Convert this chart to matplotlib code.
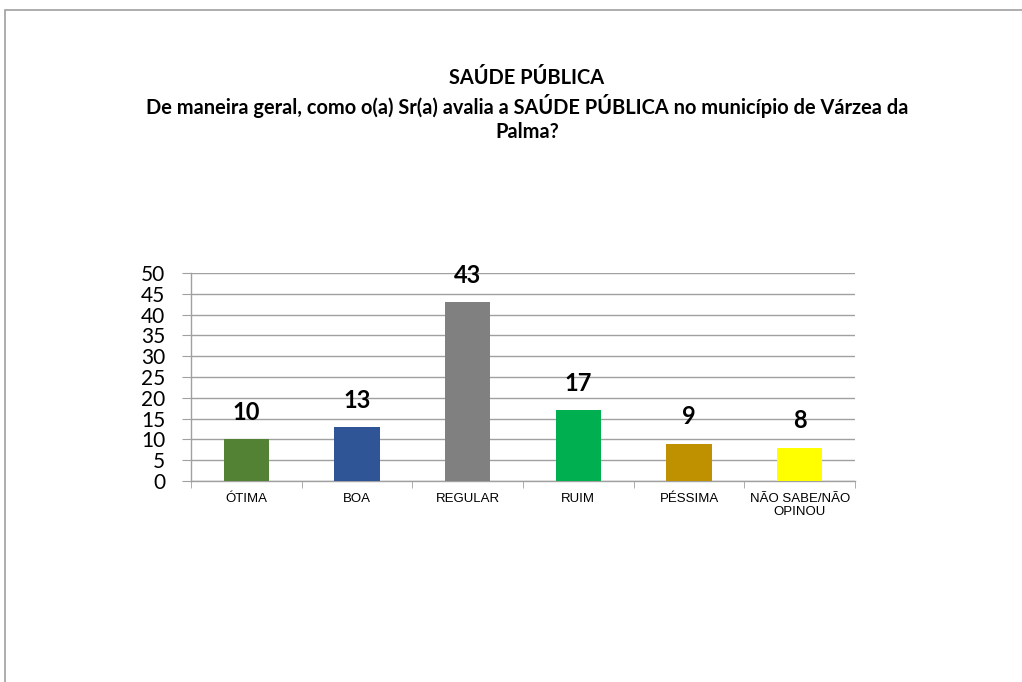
import matplotlib
matplotlib.use("Agg")
import matplotlib.pyplot as plt
from matplotlib.patches import Rectangle

categories = ["ÓTIMA", "BOA", "REGULAR", "RUIM", "PÉSSIMA", "NÃO SABE/NÃO\nOPINOU"]
values = [10, 13, 43, 17, 9, 8]
colors = ["#548235", "#2F5597", "#808080", "#00B050", "#BF9000", "#FFFF00"]
yticks = [0, 5, 10, 15, 20, 25, 30, 35, 40, 45, 50]
title_lines = ["SAÚDE PÚBLICA",
               "De maneira geral, como o(a) Sr(a) avalia a SAÚDE PÚBLICA no município de Várzea da",
               "Palma?"]

W, H = 1022, 682
fig = plt.figure(figsize=(W / 100, H / 100), dpi=100)
fig.patch.set_facecolor("white")

# outer frame (left and top visible)
fig.patches.append(Rectangle((5 / W, -0.1), 1.2, (H - 10) / H + 0.1, transform=fig.transFigure,
                             fill=False, edgecolor="#a0a0a0", linewidth=1.2))

ax = fig.add_axes([191 / W, 1 - 481 / H, (855 - 191) / W, (481 - 273) / H])
x = list(range(len(categories)))
ax.bar(x, values, width=0.41, color=colors, zorder=3)
ax.set_xlim(-0.5, len(categories) - 0.5)
ax.set_ylim(0, 50)
ax.set_yticks(yticks)
ax.set_yticklabels([str(t) for t in yticks], fontsize=15, family="Lato")
ax.set_xticks(x)
ax.set_xticklabels(categories, fontsize=9.5, family="Liberation Sans", linespacing=1.05)
ax.tick_params(axis="x", length=0, pad=9)
ax.set_xticks([i - 0.5 for i in range(len(categories) + 1)], minor=True)
ax.tick_params(axis="x", which="minor", length=5, color="#a0a0a0", direction="out")
ax.tick_params(axis="y", length=6.5, color="#a0a0a0", pad=12)
ax.grid(axis="y", color="#a0a0a0", linewidth=1, zorder=0)
for s in ["top", "right"]:
    ax.spines[s].set_visible(False)
for s in ["left", "bottom"]:
    ax.spines[s].set_color("#a0a0a0")
    ax.spines[s].set_linewidth(1)

for xi, v in zip(x, values):
    ax.annotate(str(v), (xi, v), xytext=(0, 11), textcoords="offset points",
                ha="center", va="bottom", fontsize=17, fontweight="bold", family="Lato")

baselines = [84, 114, 138]
for line, yb in zip(title_lines, baselines):
    fig.text(527 / W, 1 - yb / H, line, ha="center", va="baseline", fontsize=14.4,
             fontweight="bold", family="Lato")

fig.savefig("out.png", dpi=100)
